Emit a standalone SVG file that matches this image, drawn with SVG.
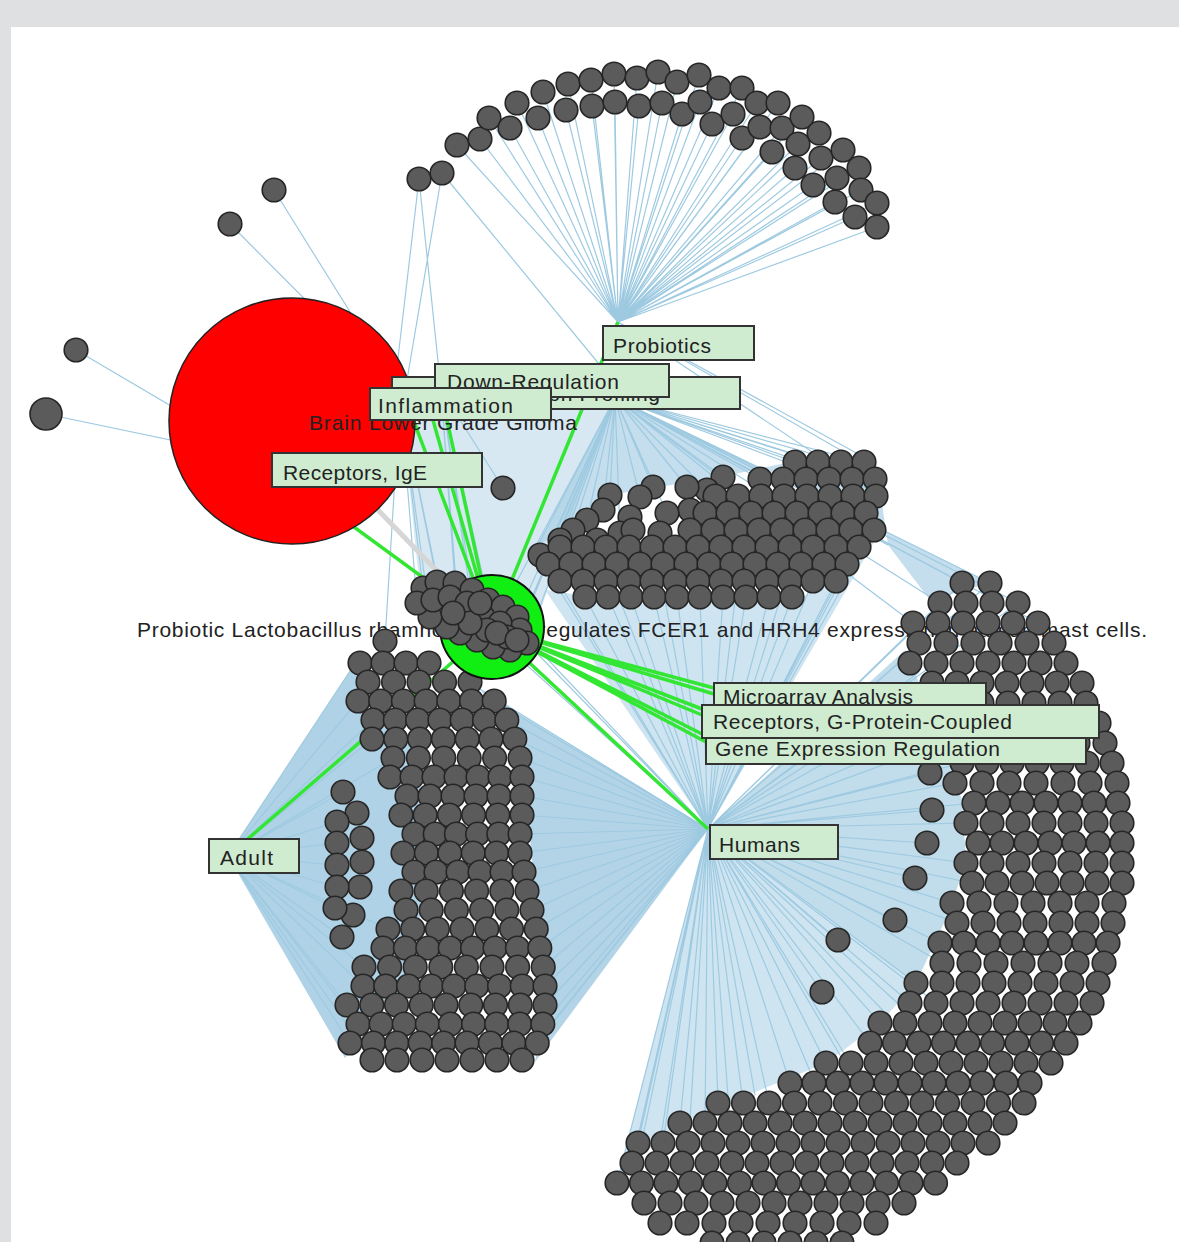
<svg xmlns="http://www.w3.org/2000/svg" width="1179" height="1242" viewBox="0 0 1179 1242">
<style>
.e{fill:none;stroke:#9ecae1;stroke-width:1.2;stroke-linejoin:round}
.fan{fill:#a6cde3}
.g{fill:none;stroke:#33e633;stroke-width:3.5}
.cl{fill:none;stroke:none;marker-start:url(#nd);marker-mid:url(#nd);marker-end:url(#nd)}
.nd{fill:#5b5b5b;stroke:#262626;stroke-width:1.6}
.lb rect{fill:#cfecd1;stroke:#333;stroke-width:2}
.lb text,.t{font-family:"Liberation Sans",Arial,sans-serif;font-size:21px;fill:#222}
</style>
<defs>
<marker id="nd" markerUnits="userSpaceOnUse" markerWidth="28" markerHeight="28" refX="14" refY="14" overflow="visible"><circle cx="14" cy="14" r="11.8" fill="#5b5b5b" stroke="#262626" stroke-width="1.6"/></marker>
</defs>
<rect width="1179" height="1242" fill="#dfe0e2"/>
<rect x="11" y="27" width="1168" height="1215" fill="#fff"/>
<g id="connectors">
<path class="fan" opacity=".9" d="M228 856L352 668L420 760L420 960L345 1058Z"/>
<path class="fan" opacity=".85" d="M708 829L480 690L520 730L545 1000L535 1062Z"/>
<path class="fan" opacity=".55" d="M708 829L545 590L650 605L800 600L878 535Z"/>
<path class="fan" opacity=".7" d="M708 829L905 650L935 720L962 800L966 860L950 910L916 983Z"/>
<path class="fan" opacity=".55" d="M708 829L916 983L880 1023L826 1063L760 1090L680 1123L632 1163L617 1183Z"/>
<path class="fan" opacity=".65" d="M615 398L537 547L610 495L720 477L800 460L864 460L880 490L888 545L930 600L990 583Z"/>
<path class="fan" opacity=".45" d="M400 396L615 398L530 640L420 590Z"/>
<path class="e" d="M457 145L618 322 480 139 618 322 489 118 618 322 510 128 618 322 517 103 618 322 538 118 618 322 543 92 618 322 566 110 618 322 568 84 618 322 592 106 618 322 591 80 618 322 615 102 618 322 614 74 618 322 639 106 618 322 637 78 618 322 662 103 618 322 658 72 618 322 682 114 618 322 677 82 618 322 700 102 618 322 699 75 618 322 712 124 618 322 719 88 618 322 733 114 618 322 742 88 618 322 742 138 618 322 757 103 618 322 760 127 618 322 778 103 618 322 772 152 618 322 782 128 618 322 802 117 618 322 798 144 618 322 819 133 618 322 795 168 618 322 821 158 618 322 843 150 618 322 813 185 618 322 837 178 618 322 859 168 618 322 835 202 618 322 861 190 618 322 855 217 618 322 877 203 618 322 877 227"/>
<path class="e" d="M470 683L708 829 494 701 708 829 507 720 708 829 515 739 708 829 520 758 708 829 522 777 708 829 522 796 708 829 522 815 708 829 520 834 708 829 520 853 708 829 524 872 708 829 527 891 708 829 532 910 708 829 536 929 708 829 540 948 708 829 543 967 708 829 545 986 708 829 545 1005 708 829 543 1024 708 829 537 1043 708 829 522 1060"/>
<path class="e" d="M550 575L708 829 560 585 708 829 585 597 708 829 608 597 708 829 631 597 708 829 654 597 708 829 677 597 708 829 700 597 708 829 723 597 708 829 746 597 708 829 769 597 708 829 792 597 708 829 813 581 708 829 836 581 708 829 847 564 708 829 859 547 708 829 874 530 708 829 510 650 708 829 527 643 708 829 520 630 708 829 620 600 708 829 665 600 708 829 735 600 708 829 780 600"/>
<path class="e" d="M908 655L708 829 918 673 708 829 932 683 708 829 930 703 708 829 949 723 708 829 943 743 708 829 962 763 708 829 930 773 708 829 955 783 708 829 932 810 708 829 974 803 708 829 927 843 708 829 966 823 708 829 966 863 708 829 915 878 708 829 972 883 708 829 895 920 708 829 952 903 708 829 957 923 708 829 838 940 708 829 940 943 708 829 942 963 708 829 822 992 708 829 916 983 708 829 962 583 708 829 990 583 708 829 940 603 708 829 1018 603"/>
<path class="e" d="M910 1003L708 829 880 1023 708 829 870 1043 708 829 826 1063 708 829 850 1063 708 829 790 1083 708 829 815 1083 708 829 743 1103 708 829 718 1103 708 829 769 1103 708 829 705 1123 708 829 680 1123 708 829 730 1123 708 829 663 1143 708 829 638 1143 708 829 632 1163 708 829 617 1183 708 829 657 1163 708 829 895 1023 708 829 936 1003 708 829 640 1150 708 829 690 1120 708 829 755 1095 708 829 840 1055 708 829 905 1010"/>
<path class="e" d="M352 668L228 856 358 701 228 856 373 720 228 856 372 739 228 856 393 758 228 856 343 792 228 856 337 822 228 856 337 843 228 856 337 865 228 856 337 887 228 856 335 908 228 856 342 937 228 856 388 929 228 856 364 967 228 856 363 986 228 856 347 1005 228 856 358 1024 228 856 350 1043 228 856 372 1060"/>
<path class="e" d="M537 547L615 398 550 545 615 398 560 540 615 398 573 530 615 398 587 520 615 398 603 510 615 398 610 495 615 398 620 533 615 398 640 497 615 398 653 487 615 398 667 513 615 398 687 487 615 398 707 490 615 398 723 477 615 398 738 496 615 398 760 479 615 398 783 479 615 398 795 462 615 398 818 462 615 398 841 462 615 398 852 479 615 398 864 462 615 398 875 479 615 398 876 496 615 398 874 530 615 398 888 545 615 398 940 603 615 398 962 583 615 398 990 583 615 398 1018 603 615 398 1038 623 615 398 913 623"/>
<path class="e" d="M618 322L860 455M618 322L875 470M618 322L884 500"/>
<path class="e" d="M400 396L423 588M400 396L437 582M400 396L417 603M400 396L430 617M400 396L447 627M441 390L455 583M441 390L472 590M441 390L488 600M441 390L460 633M441 390L477 640M615 398L503 607M615 398L517 617M615 398L520 630M615 398L527 643M615 398L510 650M400 396L385 641M441 390L503 488"/>
<path class="e" d="M419 179L394 392M419 179L441 390M442 173L405 392M442 173L622 392M274 190L405 400M230 224L405 400M76 350L261 459M46 414L261 459"/>
<path d="M292 421L492 628" fill="none" stroke="#d6d6d6" stroke-width="5"/>
<path class="g" d="M492 628L261 459M492 628L405 398M492 628L441 392M492 628L425 392M492 628L618 322M492 628L714 688M492 628L714 694M492 628L702 709M492 628L702 715M492 628L706 736M492 628L706 742M492 628L708 829M492 628L228 856"/>
</g>
<g id="node-brain-lower-grade-glioma"><circle cx="292" cy="421" r="123" fill="#ff0000" stroke="#222" stroke-width="1.5"/><text class="t" x="309" y="430" textLength="268">Brain Lower Grade Glioma</text></g>
<text class="t" x="137" y="637" textLength="1010">Probiotic Lactobacillus rhamnosus downregulates FCER1 and HRH4 expression in human mast cells.</text>
<g id="nodes-single">
<circle class="nd" cx="274" cy="190" r="11.8"/>
<circle class="nd" cx="230" cy="224" r="11.8"/>
<circle class="nd" cx="76" cy="350" r="11.8"/>
<circle class="nd" cx="46" cy="414" r="16"/>
<circle class="nd" cx="503" cy="488" r="11.8"/>
<circle class="nd" cx="385" cy="641" r="11.8"/>
<circle class="nd" cx="930" cy="773" r="11.8"/>
<circle class="nd" cx="932" cy="810" r="11.8"/>
<circle class="nd" cx="927" cy="843" r="11.8"/>
<circle class="nd" cx="915" cy="878" r="11.8"/>
<circle class="nd" cx="895" cy="920" r="11.8"/>
<circle class="nd" cx="838" cy="940" r="11.8"/>
<circle class="nd" cx="822" cy="992" r="11.8"/>
</g>
<g id="nodes-probiotics"><path class="cl" d="M419 179L442 173L457 145L480 139L489 118L510 128L517 103L538 118L543 92L566 110L568 84L592 106L591 80L615 102L614 74L639 106L637 78L662 103L658 72L682 114L677 82L700 102L699 75L712 124L719 88L733 114L742 88L742 138L757 103L760 127L778 103L772 152L782 128L802 117L798 144L819 133L795 168L821 158L843 150L813 185L837 178L859 168L835 202L861 190L855 217L877 203L877 227"/></g>
<g id="nodes-profiling"><path class="cl" d="M723 477L707 490L687 487L690 510L667 513L653 487L640 497L630 517L620 533L610 495L603 510L587 520L573 530L560 540L597 540L633 530L660 533L540 555"/><path class="cl" d="M795 462h23h23h23M760 479h23h23h23h23h23M715 496h23h23h23h23h23h23h23M705 513h23h23h23h23h23h23h23M690 530h23h23h23h23h23h23h23h23M560 547h23h23h23h23h23h23h23h23h23h23h23h23h23M548 564h23h23h23h23h23h23h23h23h23h23h23h23h23M560 581h23h23h23h23h23h23h23h23h23h23h23h23M585 597h23h23h23h23h23h23h23h23h23"/></g>
<g id="nodes-adult"><path class="cl" d="M343 792L357 813L337 822L362 838L337 843L362 862L337 865L360 887L337 887L353 915L335 908L342 937"/><path class="cl" d="M360 663h23h23h23M368 682h25.5h25.5h25.5h25.5M358 701h22.7h22.7h22.7h22.7h22.7h22.7M373 720h22.3h22.3h22.3h22.3h22.3h22.3M372 739h23.8h23.8h23.8h23.8h23.8h23.8M393 758h25.4h25.4h25.4h25.4h25.4M390 777h22h22h22h22h22h22M407 796h23h23h23h23h23M401 815h24.2h24.2h24.2h24.2h24.2M414 834h21.2h21.2h21.2h21.2h21.2M403 853h23.4h23.4h23.4h23.4h23.4M414 872h22h22h22h22h22M401 891h25.2h25.2h25.2h25.2h25.2M406 910h25.2h25.2h25.2h25.2h25.2M388 929h24.7h24.7h24.7h24.7h24.7h24.7M383 948h22.4h22.4h22.4h22.4h22.4h22.4h22.4M364 967h25.6h25.6h25.6h25.6h25.6h25.6h25.6M363 986h22.75h22.75h22.75h22.75h22.75h22.75h22.75h22.75M347 1005h24.75h24.75h24.75h24.75h24.75h24.75h24.75h24.75M358 1024h23.1h23.1h23.1h23.1h23.1h23.1h23.1h23.1M350 1043h23.4h23.4h23.4h23.4h23.4h23.4h23.4h23.4M372 1060h25h25h25h25h25h25"/></g>
<g id="nodes-humans"><path class="cl" d="M962 583h28M940 603h26h26h26M913 623h25h25h25h25h25M919 643h27h27h27h27h27M910 663h26h26h26h26h26h26M932 683h25h25h25h25h25h25M930 703h26h26h26h26h26h26M949 723h25h25h25h25h25h25M943 743h27h27h27h27h27h27M962 763h25h25h25h25h25h25M955 783h27h27h27h27h27h27M974 803h24h24h24h24h24h24M966 823h26h26h26h26h26h26M978 843h24h24h24h24h24h24M966 863h26h26h26h26h26h26M972 883h25h25h25h25h25h25M952 903h27h27h27h27h27h27M957 923h26h26h26h26h26h26M940 943h24h24h24h24h24h24h24M942 963h27h27h27h27h27h27M916 983h26h26h26h26h26h26h26M910 1003h26h26h26h26h26h26h26M880 1023h25h25h25h25h25h25h25h25M870 1043h24.5h24.5h24.5h24.5h24.5h24.5h24.5h24.5M826 1063h25h25h25h25h25h25h25h25h25M790 1083h24h24h24h24h24h24h24h24h24h24M718 1103h25.5h25.5h25.5h25.5h25.5h25.5h25.5h25.5h25.5h25.5h25.5h25.5M680 1123h25h25h25h25h25h25h25h25h25h25h25h25h25M638 1143h25h25h25h25h25h25h25h25h25h25h25h25h25h25M632 1163h25h25h25h25h25h25h25h25h25h25h25h25h25M617 1183h24.5h24.5h24.5h24.5h24.5h24.5h24.5h24.5h24.5h24.5h24.5h24.5h24.5M644 1203h26h26h26h26h26h26h26h26h26h26M660 1223h27h27h27h27h27h27h27h27M712 1243h26h26h26h26h26"/></g>
<g id="node-article"><circle cx="492" cy="627" r="52" fill="#11ee11" stroke="#111" stroke-width="2"/></g>
<g id="nodes-article-cluster"><path class="cl" d="M423 588L437 582L455 583L472 590L488 600L503 607L517 617L520 630L527 643L510 650L493 647L477 640L460 633L447 627L430 617L417 603L433 600L450 597L467 603L483 617L500 623L507 637L487 630L470 623L453 613L480 603L497 633L517 640"/></g>
<g id="node-gene-expression-profiling" class="lb"><rect x="392" y="377" width="348" height="32"/><text x="403" y="401" textLength="257">Gene Expression Profiling</text></g>
<g id="node-down-regulation" class="lb"><rect x="435" y="364" width="234" height="33"/><text x="447" y="389" textLength="172">Down-Regulation</text></g>
<g id="node-inflammation" class="lb"><rect x="370" y="388" width="181" height="32"/><text x="378" y="413" textLength="135">Inflammation</text></g>
<g id="node-probiotics" class="lb"><rect x="603" y="326" width="151" height="34"/><text x="613" y="353" textLength="98">Probiotics</text></g>
<g id="node-receptors-ige" class="lb"><rect x="272" y="453" width="210" height="34"/><text x="283" y="480" textLength="144">Receptors, IgE</text></g>
<g id="node-microarray-analysis" class="lb"><rect x="714" y="683" width="272" height="32"/><text x="723" y="704" textLength="190">Microarray Analysis</text></g>
<g id="node-gene-expression-regulation" class="lb"><rect x="706" y="733" width="380" height="31"/><text x="715" y="756" textLength="285">Gene Expression Regulation</text></g>
<g id="node-receptors-gpc" class="lb"><rect x="702" y="705" width="397" height="33"/><text x="713" y="729" textLength="299">Receptors, G-Protein-Coupled</text></g>
<g id="node-humans" class="lb"><rect x="710" y="825" width="128" height="34"/><text x="719" y="852" textLength="81">Humans</text></g>
<g id="node-adult" class="lb"><rect x="209" y="839" width="90" height="34"/><text x="220" y="865" textLength="53">Adult</text></g>
</svg>
